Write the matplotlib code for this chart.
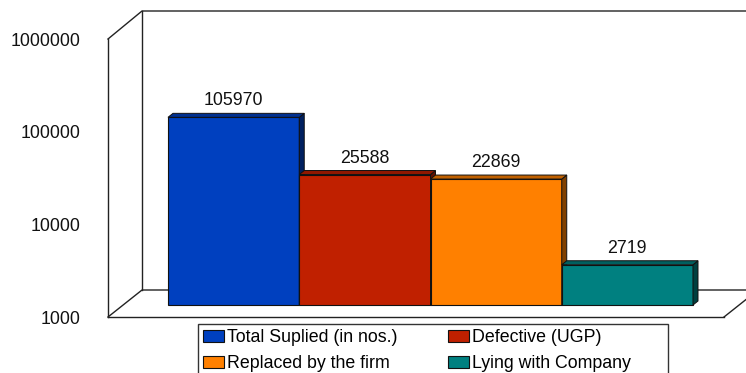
import matplotlib
matplotlib.use('Agg')
import matplotlib.pyplot as plt
from matplotlib.patches import Polygon, Rectangle
from matplotlib.transforms import Affine2D, IdentityTransform

plt.rcParams['font.family'] = ['Liberation Sans', 'DejaVu Sans']

names = ['Total Suplied (in nos.)', 'Defective (UGP)', 'Replaced by the firm', 'Lying with Company']
values = [105970, 25588, 22869, 2719]
front_colors = ['#0040BF', '#C02000', '#FF8000', '#008080']
top_colors = ['#003090', '#901800', '#C06000', '#006060']
side_colors = ['#002060', '#601000', '#804000', '#004040']
ticks = [1000, 10000, 100000, 1000000]

W, H = 746, 373
fig = plt.figure(figsize=(W / 100, H / 100), dpi=100)
ax = fig.add_axes([108 / W, 1 - 317 / H, 616 / W, 278 / H])
ax.set_yscale('log')
ax.set_ylim(1000, 1000000)
ax.set_xlim(-0.5 - 45 / 131.25, 3.5 + 46 / 131.25)

# the bars stand halfway into the box, so shift them by part of its depth
bar_shift = (15, 12)
box_depth = (34, 27)
shifted = ax.transData + Affine2D().translate(*bar_shift)
pixels = IdentityTransform()

# box edges
x0, y0 = ax.transAxes.transform((0, 0))
x1, y1 = ax.transAxes.transform((1, 1))
bx, by = box_depth
edges = [
    [(x0, y1), (x0 + bx, y1 + by + 1), (W + 20, y1 + by + 1)],
    [(x0, y0), (x0 + bx, y0 + by), (W + 20, y0 + by)],
    [(x0 + bx, y0 + by), (x0 + bx, y1 + by + 1)],
    [(x1, y0), (x1 + bx, y0 + by)],
]
for e in edges:
    ax.plot([p[0] for p in e], [p[1] for p in e], color='#222222', lw=1, transform=pixels, clip_on=False, zorder=1)

bars = []
for i, v in enumerate(values):
    # bar() takes a height, so measure it from the bottom of the log axis
    b = ax.bar(i, v - 1000, width=1, bottom=1000, color=front_colors[i], edgecolor='#111111', linewidth=0.8,
               transform=shifted, label=names[i], zorder=2 + i, clip_on=False)
    bars.append(b)
    # side and top faces in pixels
    xl, yb = shifted.transform((i - 0.5, 1000))
    xr, yt = shifted.transform((i + 0.5, v))
    side = Polygon([(xr, yb), (xr + 5, yb + 4), (xr + 5, yt + 4), (xr, yt)], closed=True,
                   facecolor=side_colors[i], edgecolor='#111111', lw=0.7, transform=pixels, zorder=2 + i, clip_on=False)
    top = Polygon([(xl, yt), (xl + 5, yt + 4), (xr + 5, yt + 4), (xr, yt)], closed=True,
                  facecolor=top_colors[i], edgecolor='#111111', lw=0.7, transform=pixels, zorder=2 + i, clip_on=False)
    ax.add_patch(side)
    ax.add_patch(top)
    ax.annotate(str(v), (i, v), xytext=(bar_shift[0], bar_shift[1] + 12), textcoords='offset pixels',
                ha='center', va='baseline', fontsize=12.8, color='#111111', zorder=10)

for s in ['top', 'right']:
    ax.spines[s].set_visible(False)
for s in ['left', 'bottom']:
    ax.spines[s].set_color('#222222')
    ax.spines[s].set_linewidth(1)
    ax.spines[s].set_zorder(1)
ax.patch.set_visible(False)
ax.set_xticks([])
ax.set_yticks(ticks)
ax.set_yticklabels([str(t) for t in ticks], fontsize=12.8, color='#111111')
ax.minorticks_off()
ax.tick_params(axis='y', length=0, pad=20)

# legend box runs off the bottom edge of the figure
fig.add_artist(Rectangle((198, H - 400), 470, 76, facecolor='white', edgecolor='#333333', lw=1,
                         transform=pixels))
order = [0, 2, 1, 3]
leg = fig.legend([bars[i] for i in order], [names[i] for i in order], ncol=2,
                 loc='upper left', bbox_to_anchor=(198 / W, 1 - 324 / H), borderaxespad=0,
                 fontsize=12.75, frameon=False,
                 handlelength=1.15, handleheight=0.62, handletextpad=0.2, labelspacing=0.5,
                 columnspacing=2.85, borderpad=0.3)

fig.savefig('out.png', dpi=100)
